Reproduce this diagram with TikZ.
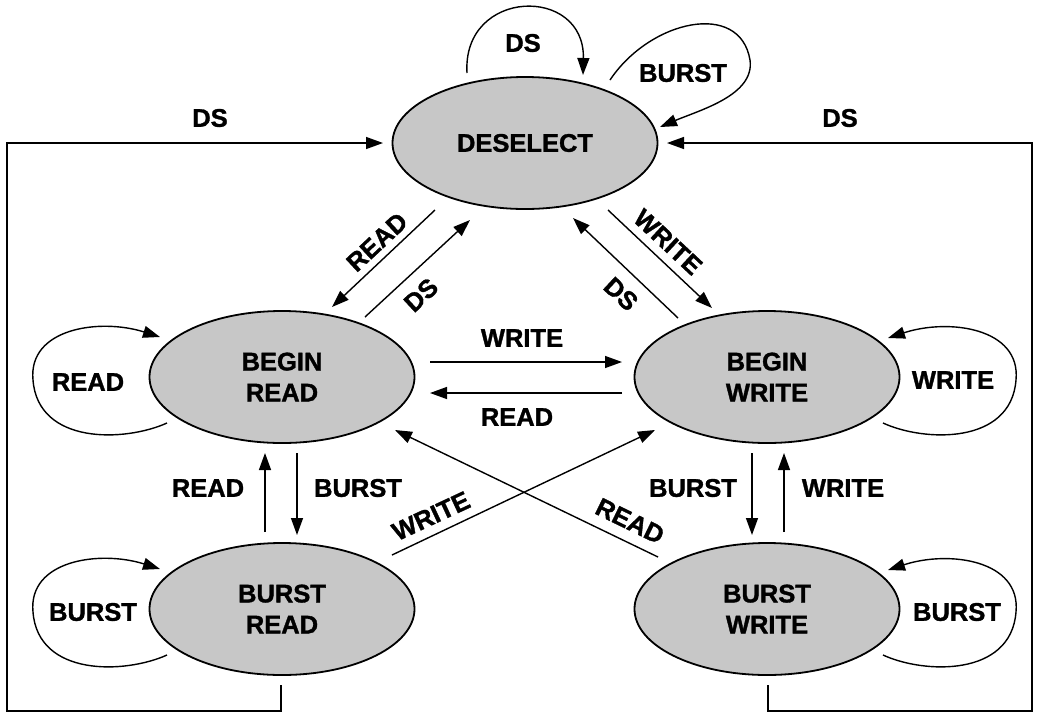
\documentclass[tikz,border=0pt]{standalone}
\usepackage{fontspec}
\setmainfont{Liberation Sans}[BoldFeatures={FakeBold=1.3}]
\usetikzlibrary{arrows.meta,shapes.geometric}
\newcommand\lab{\fontsize{25.5}{31}\selectfont\bfseries}
\begin{document}
\begin{tikzpicture}[x=1pt,y=-1pt,
  st/.style={ellipse, draw, line width=1.8pt, fill=black!22, minimum width=265pt, minimum height=132pt, inner sep=0pt, align=center, font=\lab, text=black},
  arr/.style={line width=1.4pt, -{Triangle[length=17pt,width=12pt]}},
  lbl/.style={font=\lab, inner sep=0pt}]
\path[use as bounding box] (0,0) rectangle (1037,713);
% states
\node[st] (DES) at (525,143) {DESELECT};
\node[st] (BR) at (282,377) {BEGIN\\READ};
\node[st] (BW) at (767,377) {BEGIN\\WRITE};
\node[st] (UR) at (282,609) {BURST\\READ};
\node[st] (UW) at (767,609) {BURST\\WRITE};
% deselect loops
\draw[arr] ([shift={(-58,-70)}]DES.center) .. controls (462,-12) and (585,-15) .. ([shift={(58,-68)}]DES.center);
\node[lbl] (l1) at (523,43) {DS};
\draw[arr] ([shift={(85,-63)}]DES.center) .. controls (650,20) and (740,0) .. (750,60) .. controls (755,95) and (700,110) .. ([shift={(135,-16)}]DES.center);
\node[lbl] (l2) at (683,73) {BURST};
% outer frame
\draw[arr] ([shift={(-1,76)}]UR.center) -- ++(0,26) -- ++(-274,0) |- ([shift={(-142,0)}]DES.center);
\node[lbl] (l3) at (210,118) {DS};
\draw[arr] ([shift={(1,76)}]UW.center) -- ++(0,26) -- ++(264,0) |- ([shift={(142,0)}]DES.center);
\node[lbl] (l4) at (840,118) {DS};
% diagonals to deselect
\draw[arr] ([shift={(-90,67)}]DES.center) -- ([shift={(50,-70)}]BR.center);
\node[lbl,rotate=43] (l5) at (377,242) {READ};
\draw[arr] ([shift={(83,-60)}]BR.center) -- ([shift={(-55,77)}]DES.center);
\node[lbl,rotate=43] (l6) at (421,295) {DS};
\draw[arr] ([shift={(83,67)}]DES.center) -- ([shift={(-55,-69)}]BW.center);
\node[lbl,rotate=-43] (l7) at (668,242) {WRITE};
\draw[arr] ([shift={(-89,-59)}]BW.center) -- ([shift={(48,75)}]DES.center);
\node[lbl,rotate=-43] (l8) at (621,294) {DS};
% horizontals
\draw[arr] ([shift={(148,-15)}]BR.center) -- ([shift={(-145,-15)}]BW.center);
\node[lbl] (l9) at (522,338) {WRITE};
\draw[arr] ([shift={(-145,16)}]BW.center) -- ([shift={(148,16)}]BR.center);
\node[lbl] (l10) at (517,417) {READ};
% crossing
\draw[arr] ([shift={(-109,-52)}]UW.center) -- ([shift={(113,53)}]BR.center);
\node[lbl,rotate=-26] (l11) at (630,521) {READ};
\draw[arr] ([shift={(110,-54)}]UR.center) -- ([shift={(-112,53)}]BW.center);
\node[lbl,rotate=25] (l12) at (431,516) {WRITE};
% verticals
\draw[arr] ([shift={(-17,-77)}]UR.center) -- ([shift={(-17,76)}]BR.center);
\node[lbl] (l13) at (208,488) {READ};
\draw[arr] ([shift={(15,76)}]BR.center) -- ([shift={(15,-74)}]UR.center);
\node[lbl] (l14) at (358,488) {BURST};
\draw[arr] ([shift={(-15,76)}]BW.center) -- ([shift={(-15,-74)}]UW.center);
\node[lbl] (l15) at (693,488) {BURST};
\draw[arr] ([shift={(17,-77)}]UW.center) -- ([shift={(17,76)}]BW.center);
\node[lbl] (l16) at (843,488) {WRITE};
% side loops
\draw[arr] ([shift={(-115,46)}]BR.center) .. controls (125,442) and (38,445) .. (33,380) .. controls (28,328) and (100,318) .. ([shift={(-122,-40)}]BR.center);
\node[lbl] (l17) at (88,382) {READ};
\draw[arr] ([shift={(-115,46)}]UR.center) .. controls (125,674) and (38,677) .. (33,612) .. controls (28,560) and (100,550) .. ([shift={(-122,-40)}]UR.center);
\node[lbl] (l18) at (93,612) {BURST};
\draw[arr] ([shift={(116,46)}]BW.center) .. controls (924,442) and (1011,445) .. (1016,380) .. controls (1021,328) and (949,318) .. ([shift={(121,-39)}]BW.center);
\node[lbl] (l19) at (953,380) {WRITE};
\draw[arr] ([shift={(116,46)}]UW.center) .. controls (924,674) and (1011,677) .. (1016,612) .. controls (1021,560) and (949,550) .. ([shift={(121,-39)}]UW.center);
\node[lbl] (l20) at (957,612) {BURST};
\end{tikzpicture}
\end{document}
